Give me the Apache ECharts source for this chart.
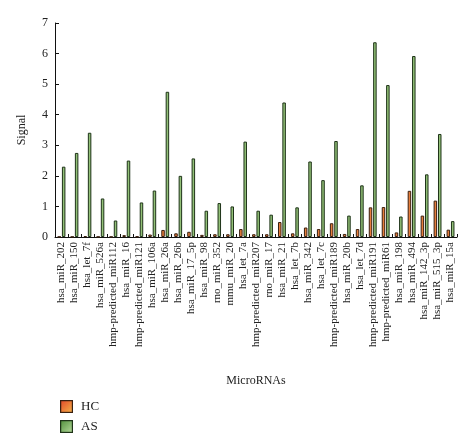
<!DOCTYPE html>
<html>
<head>
<meta charset="utf-8">
<script src="https://cdn.jsdelivr.net/npm/echarts@6/dist/echarts.min.js"></script>
<style>
html,body{margin:0;padding:0;background:#fff;}
#chart{width:474px;height:445px;}
</style>
</head>
<body>
<div id="chart"></div>
<script>
const categories = ["hsa_miR_202","hsa_miR_150","hsa_let_7f","hsa_miR_526a","hmp-predicted_miR112","hsa_miR_16","hmp-predicted_miR121","hsa_miR_106a","hsa_miR_26a","hsa_miR_26b","hsa_miR_17_5p","hsa_miR_98","rno_miR_352","mmu_miR_20","hsa_let_7a","hmp-predicted_miR207","rno_miR_17","hsa_miR_21","hsa_let_7b","hsa_miR_342","hsa_let_7c","hmp-predicted_miR189","hsa_miR_20b","hsa_let_7d","hmp-predicted_miR191","hmp-predicted_miR61","hsa_miR_198","hsa_miR_494","hsa_miR_142_3p","hsa_miR_515_3p","hsa_miR_15a"];
const hcValues = [0.01,0.01,0.03,0.01,0.01,0.06,0.02,0.08,0.23,0.12,0.17,0.07,0.09,0.09,0.26,0.09,0.09,0.49,0.12,0.31,0.26,0.45,0.10,0.26,0.97,0.98,0.15,1.51,0.70,1.19,0.24];
const asValues = [2.30,2.75,3.41,1.26,0.54,2.50,1.13,1.52,4.75,2.00,2.57,0.86,1.11,1.00,3.12,0.86,0.73,4.40,0.97,2.47,1.86,3.14,0.70,1.69,6.37,4.97,0.67,5.92,2.05,3.37,0.52];
const yTicks = [0,1,2,3,4,5,6,7];

const font = "'Liberation Serif', 'DejaVu Serif', serif";

function swatch(c0, c1, border){
  const s = 39;
  const cv = document.createElement('canvas');
  cv.width = s; cv.height = s;
  const g = cv.getContext('2d');
  const grd = g.createLinearGradient(0,0,s,s);
  grd.addColorStop(0,c0); grd.addColorStop(1,c1);
  g.fillStyle = grd; g.fillRect(0,0,s,s);
  g.strokeStyle = border; g.lineWidth = 4; g.strokeRect(2,2,s-4,s-4);
  return 'image://' + cv.toDataURL('image/png');
}

const chart = echarts.init(document.getElementById('chart'));
chart.setOption({
  animation:false,
  backgroundColor:'#fff',
  textStyle:{fontFamily:font},
  grid:{left:55,right:17,top:23,bottom:208,containLabel:false},
  legend:{
    orient:'vertical',left:55,top:395,itemWidth:13,itemHeight:13,itemGap:7,
    textStyle:{fontFamily:font,fontSize:13,color:'#222',padding:[0,0,0,3]},
    data:[
      {name:'HC',icon:swatch('#e4472a','#f7b64a','#3a2010')},
      {name:'AS',icon:swatch('#4f8f3a','#b8dc9e','#1e3318')}
    ]
  },
  xAxis:{
    type:'category',data:categories,
    name:'MicroRNAs',nameLocation:'middle',nameGap:138,
    nameTextStyle:{fontFamily:font,fontSize:12,color:'#222'},
    axisLine:{lineStyle:{color:'#111',width:1}},
    axisTick:{show:true,inside:true,length:3,interval:0,lineStyle:{color:'#111'}},
    axisLabel:{rotate:90,interval:0,margin:5,fontFamily:font,fontSize:11,color:'#222'}
  },
  yAxis:{
    type:'value',min:0,max:7,interval:1,
    name:'Signal',nameLocation:'middle',nameGap:27,
    nameTextStyle:{fontFamily:font,fontSize:12,color:'#222'},
    axisLine:{show:true,lineStyle:{color:'#111',width:1}},
    axisTick:{show:true,inside:true,length:4,lineStyle:{color:'#111'}},
    axisLabel:{fontFamily:font,fontSize:12,color:'#222',margin:7,
      formatter:function(v){return yTicks.indexOf(v)>=0?String(v):'';}},
    splitLine:{show:false}
  },
  series:[
    {name:'HC',type:'bar',data:hcValues,barWidth:3.5,barGap:'25%',
     itemStyle:{color:'#e77e3c',borderColor:'#3a2010',borderWidth:1}},
    {name:'AS',type:'bar',data:asValues,barWidth:3.5,
     itemStyle:{color:'#92c077',borderColor:'#1e3318',borderWidth:1}}
  ]
});
</script>
</body>
</html>
